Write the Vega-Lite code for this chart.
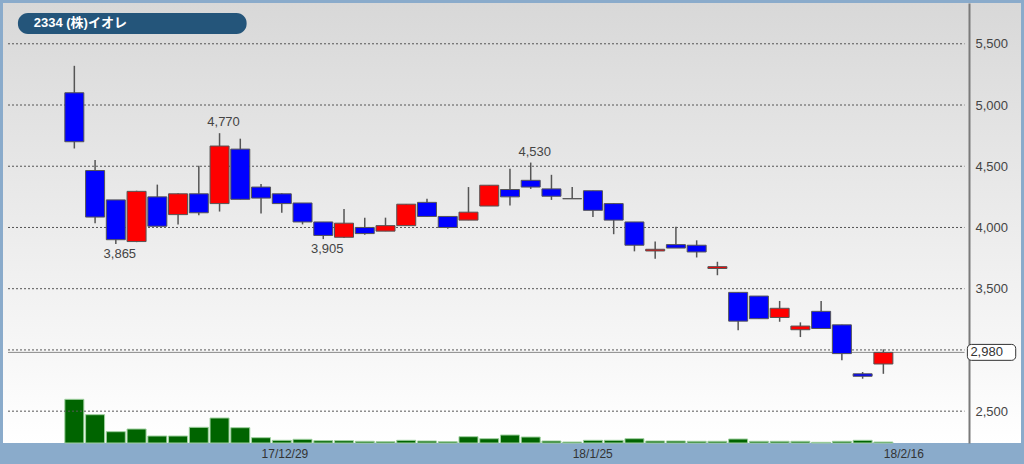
{
  "$schema": "https://vega.github.io/schema/vega-lite/v6.json",
  "width": 1018,
  "height": 440,
  "autosize": "none",
  "padding": {"left": 3, "top": 3, "right": 3, "bottom": 21},
  "background": "#8aabcb",
  "config": {
    "font": "Liberation Sans",
    "view": {
      "stroke": null,
      "fill": {"gradient": "linear", "x1": 0, "y1": 0, "x2": 0, "y2": 1,
        "stops": [{"offset": 0, "color": "#d8d8d8"}, {"offset": 1, "color": "#ffffff"}]}
    }
  },
  "datasets": {
    "candles": [
      {"i": 0, "date": "17/12/18", "open": 5100, "high": 5320, "low": 4645, "close": 4700, "volume": 437000},
      {"i": 1, "date": "17/12/19", "open": 4465, "high": 4550, "low": 4035, "close": 4085, "volume": 283000},
      {"i": 2, "date": "17/12/20", "open": 4225, "high": 4225, "low": 3865, "close": 3900, "volume": 113000},
      {"i": 3, "date": "17/12/21", "open": 3885, "high": 4300, "low": 3880, "close": 4295, "volume": 140000},
      {"i": 4, "date": "17/12/22", "open": 4250, "high": 4350, "low": 4010, "close": 4010, "volume": 70000},
      {"i": 5, "date": "17/12/25", "open": 4105, "high": 4280, "low": 4025, "close": 4275, "volume": 70000},
      {"i": 6, "date": "17/12/26", "open": 4275, "high": 4505, "low": 4100, "close": 4120, "volume": 157000},
      {"i": 7, "date": "17/12/27", "open": 4195, "high": 4770, "low": 4130, "close": 4665, "volume": 250000},
      {"i": 8, "date": "17/12/28", "open": 4640, "high": 4725, "low": 4230, "close": 4230, "volume": 153000},
      {"i": 9, "date": "17/12/29", "open": 4330, "high": 4355, "low": 4115, "close": 4240, "volume": 53000},
      {"i": 10, "date": "18/1/4", "open": 4275, "high": 4280, "low": 4120, "close": 4195, "volume": 27000},
      {"i": 11, "date": "18/1/5", "open": 4200, "high": 4200, "low": 4025, "close": 4045, "volume": 37000},
      {"i": 12, "date": "18/1/9", "open": 4045, "high": 4045, "low": 3905, "close": 3935, "volume": 23000},
      {"i": 13, "date": "18/1/10", "open": 3920, "high": 4150, "low": 3915, "close": 4035, "volume": 23000},
      {"i": 14, "date": "18/1/11", "open": 4000, "high": 4080, "low": 3940, "close": 3950, "volume": 17000},
      {"i": 15, "date": "18/1/12", "open": 3970, "high": 4080, "low": 3970, "close": 4015, "volume": 13000},
      {"i": 16, "date": "18/1/15", "open": 4015, "high": 4190, "low": 4015, "close": 4190, "volume": 27000},
      {"i": 17, "date": "18/1/16", "open": 4205, "high": 4235, "low": 4090, "close": 4090, "volume": 20000},
      {"i": 18, "date": "18/1/17", "open": 4090, "high": 4090, "low": 3990, "close": 4000, "volume": 13000},
      {"i": 19, "date": "18/1/18", "open": 4060, "high": 4330, "low": 4060, "close": 4125, "volume": 63000},
      {"i": 20, "date": "18/1/19", "open": 4175, "high": 4345, "low": 4175, "close": 4345, "volume": 43000},
      {"i": 21, "date": "18/1/22", "open": 4310, "high": 4480, "low": 4180, "close": 4250, "volume": 80000},
      {"i": 22, "date": "18/1/23", "open": 4385, "high": 4530, "low": 4315, "close": 4330, "volume": 60000},
      {"i": 23, "date": "18/1/24", "open": 4315, "high": 4430, "low": 4225, "close": 4255, "volume": 20000},
      {"i": 24, "date": "18/1/25", "open": 4235, "high": 4330, "low": 4235, "close": 4235, "volume": 10000},
      {"i": 25, "date": "18/1/26", "open": 4300, "high": 4300, "low": 4085, "close": 4140, "volume": 27000},
      {"i": 26, "date": "18/1/29", "open": 4195, "high": 4200, "low": 3945, "close": 4060, "volume": 27000},
      {"i": 27, "date": "18/1/30", "open": 4045, "high": 4045, "low": 3805, "close": 3855, "volume": 43000},
      {"i": 28, "date": "18/1/31", "open": 3808, "high": 3885, "low": 3745, "close": 3822, "volume": 20000},
      {"i": 29, "date": "18/2/1", "open": 3860, "high": 4005, "low": 3832, "close": 3832, "volume": 20000},
      {"i": 30, "date": "18/2/2", "open": 3855, "high": 3895, "low": 3755, "close": 3800, "volume": 17000},
      {"i": 31, "date": "18/2/5", "open": 3665, "high": 3720, "low": 3610, "close": 3680, "volume": 17000},
      {"i": 32, "date": "18/2/6", "open": 3470, "high": 3470, "low": 3160, "close": 3235, "volume": 40000},
      {"i": 33, "date": "18/2/7", "open": 3440, "high": 3440, "low": 3255, "close": 3255, "volume": 17000},
      {"i": 34, "date": "18/2/8", "open": 3265, "high": 3400, "low": 3230, "close": 3340, "volume": 17000},
      {"i": 35, "date": "18/2/9", "open": 3165, "high": 3225, "low": 3105, "close": 3195, "volume": 17000},
      {"i": 36, "date": "18/2/13", "open": 3315, "high": 3400, "low": 3175, "close": 3175, "volume": 7000},
      {"i": 37, "date": "18/2/14", "open": 3205, "high": 3205, "low": 2915, "close": 2970, "volume": 17000},
      {"i": 38, "date": "18/2/15", "open": 2805, "high": 2820, "low": 2765, "close": 2785, "volume": 27000},
      {"i": 39, "date": "18/2/16", "open": 2885, "high": 3005, "low": 2805, "close": 2980, "volume": 10000}
    ],
    "grid": [{"price": 2500}, {"price": 3000}, {"price": 3500}, {"price": 4000}, {"price": 4500}, {"price": 5000}, {"price": 5500}],
    "notes": [
      {"i": 7, "price": 4770, "label": "4,770", "pos": "above"},
      {"i": 2, "price": 3865, "label": "3,865", "pos": "below"},
      {"i": 12, "price": 3905, "label": "3,905", "pos": "below"},
      {"i": 22, "price": 4530, "label": "4,530", "pos": "above"}
    ],
    "title": [{"name": "2334 (株)イオレ"}],
    "last": [{"price": 2980, "label": "2,980"}]
  },
  "resolve": {"scale": {"y": "independent"}},
  "layer": [
    {
      "data": {"name": "candles"},
      "mark": {"type": "bar", "width": 19, "fill": "#006400", "stroke": "#9fd09f", "strokeWidth": 1},
      "encoding": {
        "x": {"field": "i", "type": "quantitative", "scale": {"domain": [-3.198, 45.394], "nice": false, "zero": false},
          "axis": {"values": [9, 24, 39], "labelExpr": "datum.value == 9 ? '17/12/29' : datum.value == 24 ? '18/1/25' : '18/2/16'",
            "labelAlign": "left", "ticks": false, "domain": false, "grid": false, "labelFontSize": 12, "labelColor": "#333333",
            "labelPadding": 5, "title": null, "labelFont": "Liberation Sans"}},
        "y": {"field": "volume", "type": "quantitative", "scale": {"domain": [0, 4400000], "nice": false}, "axis": null}
      }
    },
    {
      "layer": [
        {
          "data": {"name": "grid"},
          "mark": {"type": "rule", "stroke": "#555555", "strokeWidth": 1, "strokeDash": [2, 2]},
          "encoding": {
            "y": {"field": "price", "type": "quantitative", "scale": {"domain": [2240, 5833], "nice": false, "zero": false},
              "axis": {"orient": "right", "offset": -52, "values": [2500, 3500, 4000, 4500, 5000, 5500], "format": ",d",
                "grid": false, "ticks": false, "domainColor": "#7a7a7a", "domainWidth": 2, "labelFontSize": 13,
                "labelColor": "#444444", "labelPadding": 6, "title": null, "labelFont": "Liberation Sans"}},
            "x": {"datum": -3.198, "type": "quantitative", "scale": {"domain": [-3.198, 45.394], "nice": false, "zero": false}},
            "x2": {"datum": 42.912}
          }
        },
        {
          "data": {"name": "last"},
          "mark": {"type": "rule", "stroke": "#8a8a8a", "strokeWidth": 1},
          "encoding": {
            "y": {"field": "price", "type": "quantitative", "scale": {"domain": [2240, 5833], "nice": false, "zero": false}},
            "x": {"datum": -3.198, "type": "quantitative", "scale": {"domain": [-3.198, 45.394], "nice": false, "zero": false}},
            "x2": {"datum": 42.912}
          }
        },
        {
          "data": {"name": "candles"},
          "mark": {"type": "rule", "stroke": "#555555", "strokeWidth": 1.5},
          "encoding": {
            "x": {"field": "i", "type": "quantitative", "scale": {"domain": [-3.198, 45.394], "nice": false, "zero": false}},
            "y": {"field": "low", "type": "quantitative", "scale": {"domain": [2240, 5833], "nice": false, "zero": false}},
            "y2": {"field": "high"}
          }
        },
        {
          "data": {"name": "candles"},
          "mark": {"type": "bar", "width": 19, "stroke": "#555555", "strokeWidth": 1},
          "encoding": {
            "x": {"field": "i", "type": "quantitative", "scale": {"domain": [-3.198, 45.394], "nice": false, "zero": false}},
            "y": {"field": "open", "type": "quantitative", "scale": {"domain": [2240, 5833], "nice": false, "zero": false}},
            "y2": {"field": "close"},
            "fill": {"condition": [{"test": "datum.close > datum.open", "value": "#ff0000"}, {"test": "datum.close < datum.open", "value": "#0000ff"}], "value": "#333333"}
          }
        },
        {
          "data": {"name": "notes"},
          "transform": [{"filter": "datum.pos == 'above'"}],
          "mark": {"type": "text", "baseline": "bottom", "dy": -4, "dx": 4, "fontSize": 13, "fill": "#444444"},
          "encoding": {
            "x": {"field": "i", "type": "quantitative", "scale": {"domain": [-3.198, 45.394], "nice": false, "zero": false}},
            "y": {"field": "price", "type": "quantitative", "scale": {"domain": [2240, 5833], "nice": false, "zero": false}},
            "text": {"field": "label"}
          }
        },
        {
          "data": {"name": "notes"},
          "transform": [{"filter": "datum.pos == 'below'"}],
          "mark": {"type": "text", "baseline": "top", "dy": 4, "dx": 4, "fontSize": 13, "fill": "#444444"},
          "encoding": {
            "x": {"field": "i", "type": "quantitative", "scale": {"domain": [-3.198, 45.394], "nice": false, "zero": false}},
            "y": {"field": "price", "type": "quantitative", "scale": {"domain": [2240, 5833], "nice": false, "zero": false}},
            "text": {"field": "label"}
          }
        },
        {
          "data": {"name": "title"},
          "mark": {"type": "rect", "fill": "#24557a", "cornerRadius": 10},
          "encoding": {
            "x": {"datum": -2.72, "type": "quantitative", "scale": {"domain": [-3.198, 45.394], "nice": false, "zero": false}},
            "x2": {"datum": 8.305},
            "y": {"datum": 5752, "type": "quantitative", "scale": {"domain": [2240, 5833], "nice": false, "zero": false}},
            "y2": {"datum": 5580}
          }
        },
        {
          "data": {"name": "title"},
          "mark": {"type": "text", "align": "left", "baseline": "middle", "fontSize": 13, "fontWeight": "bold", "fill": "#ffffff",
            "font": "Liberation Sans, Noto Sans CJK JP"},
          "encoding": {
            "x": {"datum": -1.957, "type": "quantitative", "scale": {"domain": [-3.198, 45.394], "nice": false, "zero": false}},
            "y": {"datum": 5666, "type": "quantitative", "scale": {"domain": [2240, 5833], "nice": false, "zero": false}},
            "text": {"field": "name"}
          }
        },
        {
          "data": {"name": "last"},
          "mark": {"type": "rect", "fill": "#ffffff", "stroke": "#333333", "strokeWidth": 1, "cornerRadius": 4},
          "encoding": {
            "x": {"datum": 43.05, "type": "quantitative", "scale": {"domain": [-3.198, 45.394], "nice": false, "zero": false}},
            "x2": {"datum": 45.38},
            "y": {"datum": 3045, "type": "quantitative", "scale": {"domain": [2240, 5833], "nice": false, "zero": false}},
            "y2": {"datum": 2915}
          }
        },
        {
          "data": {"name": "last"},
          "mark": {"type": "text", "align": "left", "baseline": "middle", "dx": 3, "fontSize": 13, "fill": "#333333"},
          "encoding": {
            "x": {"datum": 43.05, "type": "quantitative", "scale": {"domain": [-3.198, 45.394], "nice": false, "zero": false}},
            "y": {"field": "price", "type": "quantitative", "scale": {"domain": [2240, 5833], "nice": false, "zero": false}},
            "text": {"field": "label"}
          }
        }
      ]
    }
  ]
}
